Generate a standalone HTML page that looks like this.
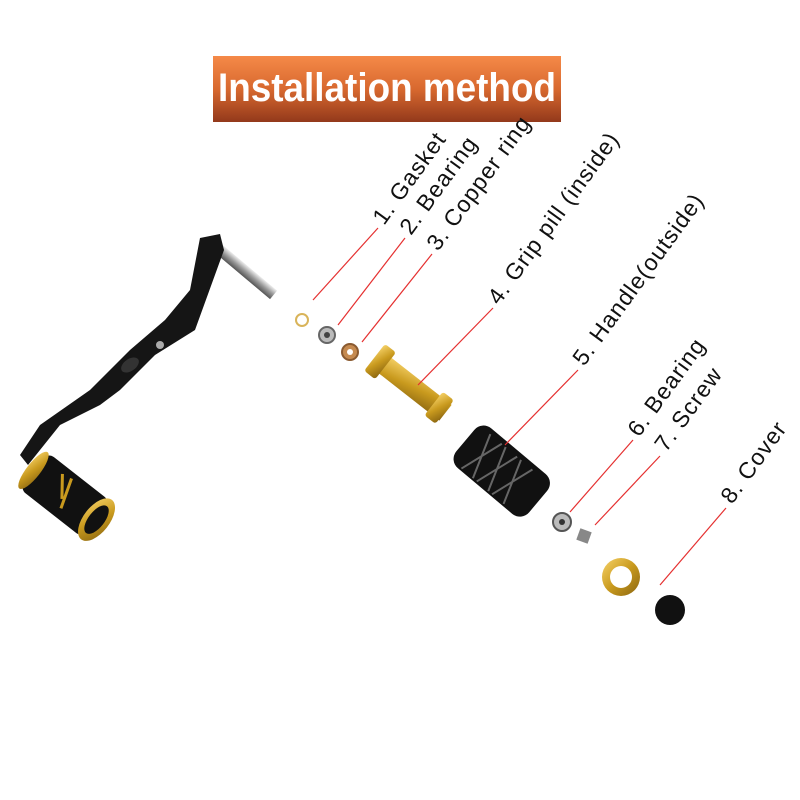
<!DOCTYPE html>
<html><head><style>
html,body{margin:0;padding:0;background:#fff;}
svg{display:block}
</style></head><body>
<svg width="800" height="800" viewBox="0 0 800 800" xmlns="http://www.w3.org/2000/svg">
<defs>
<linearGradient id="hdr" x1="0" y1="0" x2="0" y2="1">
<stop offset="0" stop-color="#f58a48"/><stop offset="0.5" stop-color="#d8692f"/><stop offset="1" stop-color="#93391b"/>
</linearGradient>
<linearGradient id="gold" x1="0" y1="0" x2="1" y2="1">
<stop offset="0" stop-color="#f7d36a"/><stop offset="0.5" stop-color="#c99a1e"/><stop offset="1" stop-color="#8a6510"/>
</linearGradient>
<linearGradient id="steel" x1="0" y1="0" x2="0" y2="1">
<stop offset="0" stop-color="#eee"/><stop offset="0.5" stop-color="#999"/><stop offset="1" stop-color="#555"/>
</linearGradient>
</defs>
<rect x="213" y="56" width="348" height="66" fill="url(#hdr)"/>
<text x="387" y="101" text-anchor="middle" font-family="Liberation Sans, sans-serif" font-weight="bold" font-size="40" fill="#fff" textLength="338" lengthAdjust="spacingAndGlyphs">Installation method</text>

<!-- crank arm -->
<rect x="212" y="236" width="85" height="11" fill="url(#steel)" transform="rotate(40 212 236)"/>
<path d="M200 238 L220 234 L224 250 L195 330 L155 355 L120 390 L100 405 L60 425 L40 450 L28 465 L20 455 L40 425 L90 390 L130 350 L165 320 L190 290 Z" fill="#151515"/>
<ellipse cx="130" cy="365" rx="10" ry="6" fill="#333" transform="rotate(-35 130 365)"/>
<circle cx="160" cy="345" r="4" fill="#aaa"/>
<!-- knob -->
<g transform="rotate(38 65 495)">
<rect x="25" y="472" width="80" height="46" rx="8" fill="#111"/>
<ellipse cx="25" cy="495" rx="7" ry="23" fill="url(#gold)"/>
<ellipse cx="105" cy="495" rx="13" ry="25" fill="url(#gold)"/>
<ellipse cx="105" cy="495" rx="8" ry="17" fill="#111"/>
<path d="M50 480 l15 20 M60 478 l10 30" stroke="#c99a1e" stroke-width="3"/>
</g>

<!-- parts -->
<circle cx="302" cy="320" r="6" fill="none" stroke="#d9b45a" stroke-width="2"/>
<circle cx="327" cy="335" r="8" fill="#bbb" stroke="#666" stroke-width="2"/><circle cx="327" cy="335" r="3" fill="#444"/>
<circle cx="350" cy="352" r="8" fill="#c58a50" stroke="#8a5a30" stroke-width="2"/><circle cx="350" cy="352" r="3" fill="#fff"/>
<g transform="rotate(38 410 385)">
<rect x="370" y="375" width="85" height="20" fill="url(#gold)"/>
<rect x="365" y="368" width="14" height="34" rx="3" fill="url(#gold)"/>
<rect x="440" y="370" width="14" height="30" rx="3" fill="url(#gold)"/>
</g>
<g transform="rotate(40 502 470)">
<rect x="455" y="445" width="95" height="52" rx="12" fill="#111"/>
<path d="M470 450 l15 45 M490 450 l15 45 M510 450 l15 45 M470 495 l15 -45 M490 495 l15 -45 M510 495 l15 -45" stroke="#666" stroke-width="2"/>
</g>
<circle cx="562" cy="522" r="9" fill="#bbb" stroke="#555" stroke-width="2"/><circle cx="562" cy="522" r="3" fill="#333"/>
<rect x="578" y="530" width="12" height="12" fill="#888" transform="rotate(20 584 536)"/>
<circle cx="621" cy="577" r="19" fill="url(#gold)"/><circle cx="621" cy="577" r="11" fill="#fff"/>
<circle cx="670" cy="610" r="15" fill="#111"/>

<!-- leader lines -->
<g stroke="#e53030" stroke-width="1.2">
<line x1="378" y1="228" x2="313" y2="300"/>
<line x1="405" y1="238" x2="338" y2="325"/>
<line x1="432" y1="254" x2="362" y2="342"/>
<line x1="493" y1="308" x2="418" y2="385"/>
<line x1="578" y1="370" x2="505" y2="445"/>
<line x1="633" y1="440" x2="570" y2="512"/>
<line x1="660" y1="456" x2="595" y2="525"/>
<line x1="726" y1="508" x2="660" y2="585"/>
</g>
<g font-family="Liberation Sans, sans-serif" font-size="23" fill="#111" letter-spacing="1">
<text transform="translate(384 226) rotate(-54)">1. Gasket</text>
<text transform="translate(411 236) rotate(-54)">2. Bearing</text>
<text transform="translate(438 252) rotate(-54)">3. Copper ring</text>
<text transform="translate(499 306) rotate(-54)">4. Grip pill (inside)</text>
<text transform="translate(584 367) rotate(-54)">5. Handle(outside)</text>
<text transform="translate(639 438) rotate(-54)">6. Bearing</text>
<text transform="translate(666 453) rotate(-54)">7. Screw</text>
<text transform="translate(732 505) rotate(-54)">8. Cover</text>
</g>
</svg>
</body></html>
